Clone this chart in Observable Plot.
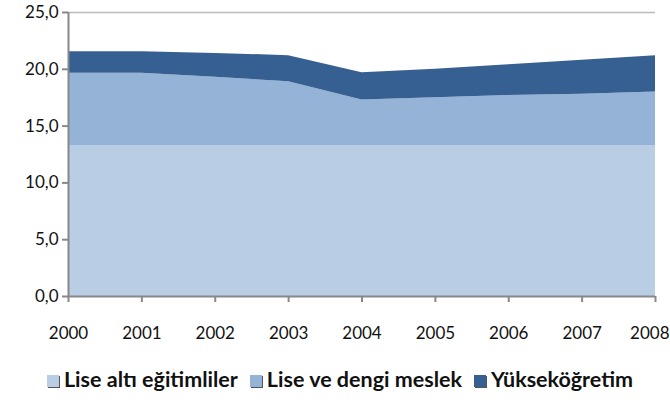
<!DOCTYPE html>
<html>
<head>
<meta charset="utf-8">
<script src="https://cdn.jsdelivr.net/npm/d3@7"></script>
<script src="https://cdn.jsdelivr.net/npm/@observablehq/plot@0.6"></script>
<style>
  body { margin: 0; background: #fff; font-family: Lato, "Open Sans", sans-serif; }
  #chart { width: 670px; }
  .legend { display: flex; justify-content: center; gap: 12px; margin-top: 16px; padding-left: 10px; font-weight: bold; font-size: 21.5px; color: #111; white-space: nowrap; }
  .legend span.sw { display: inline-block; width: 12px; height: 12px; margin-right: 5px; box-shadow: 1px 1px 0 #555; }
</style>
</head>
<body>
<div id="chart"></div>
<script>
const years = [2000, 2001, 2002, 2003, 2004, 2005, 2006, 2007, 2008]
const series = ["Lise altı eğitimliler", "Lise ve dengi meslek", "Yükseköğretim"]
const liseAlti = [13.3, 13.3, 13.3, 13.3, 13.3, 13.3, 13.3, 13.3, 13.3]
const liseDengi = [6.35, 6.35, 6.0, 5.6, 4.0, 4.2, 4.4, 4.5, 4.7]
const yuksek = [1.9, 1.9, 2.1, 2.3, 2.4, 2.5, 2.7, 3.0, 3.2]
const colors = ["#b9cde5", "#95b3d7", "#366092"]
const yTicks = [0, 5, 10, 15, 20, 25]

const values = [liseAlti, liseDengi, yuksek]
const data = []
series.forEach((s, i) => years.forEach((y, j) => data.push({year: y, seri: s, v: values[i][j]})))

const fmt = d => d.toFixed(1).replace(".", ",")

let chart = Plot.plot({
  width: 670,
  height: 350,
  marginLeft: 68,
  marginRight: 15,
  marginTop: 12,
  marginBottom: 54,
  style: {fontFamily: "Lato, sans-serif", fontSize: "17px", color: "#111"},
  x: {domain: [2000, 2008], label: null},
  y: {domain: [0, 25], label: null},
  color: {domain: series, range: colors},
  marks: [
    Plot.areaY(data, {x: "year", y: "v", fill: "seri", order: series}),
    Plot.ruleY([25], {stroke: "#bbb", strokeWidth: 1.5}),
    Plot.ruleY([0], {stroke: "#888", strokeWidth: 2}),
    Plot.ruleX([2000], {stroke: "#888", strokeWidth: 2}),
    Plot.axisX(years, {tickSize: 6, stroke: "#888", strokeWidth: 2, text: null}),
    Plot.axisX(years.slice(0, -1), {tickSize: 0, tickFormat: "d", tickPadding: 30, fontSize: 17}),
    Plot.axisX(years.slice(-1), {tickSize: 0, tickFormat: "d", tickPadding: 30, fontSize: 17, textAnchor: "end", dx: 14}),
    Plot.axisY(yTicks, {tickFormat: fmt, tickSize: 6, tickPadding: 4, stroke: "#888", strokeWidth: 2, fontSize: 17})
  ]
})

d3.select('#chart').append(() => chart)

const legend = d3.select('#chart').append('div').attr('class', 'legend')
series.forEach((s, i) => {
  const item = legend.append('div')
  item.append('span').attr('class', 'sw').style('background', colors[i])
  item.append('span').text(s)
})
</script>
</body>
</html>
